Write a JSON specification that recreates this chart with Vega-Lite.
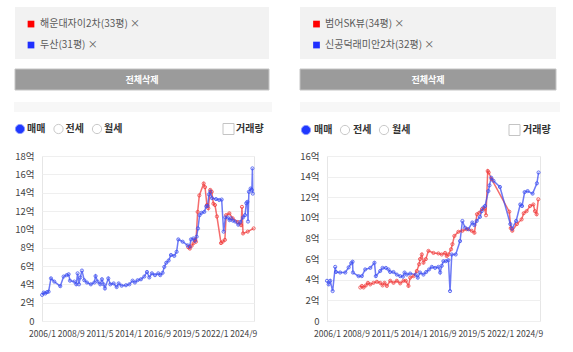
{
  "$schema": "https://vega.github.io/schema/vega-lite/v6.json",
  "padding": {"left": 13, "top": 7, "right": 0, "bottom": 0},
  "background": "white",
  "config": {
    "font": "Noto Sans CJK KR",
    "view": {"stroke": null},
    "axis": {"labelFont": "Noto Sans CJK KR", "labelFontSize": 8.5, "labelColor": "#444", "titleFont": "Noto Sans CJK KR"}
  },
  "spacing": 27,
  "resolve": {"scale": {"x": "independent", "y": "independent", "color": "independent"}},
  "hconcat": [
    {
      "spacing": 9,
      "resolve": {"scale": {"x": "independent", "y": "independent", "color": "independent"}},
      "vconcat": [
        {
          "width": 212, "height": 52,
          "layer": [
            {"data": {"values": [{"box": "legend"}]}, "mark": {"type": "rect", "color": "#f2f2f2"}, "encoding": {"x": {"value": -27}, "x2": {"value": 227}, "y": {"value": 0}, "y2": {"value": 52}}},
            {
              "data": {"values": [{"name": "해운대자이2차(33평)"}, {"name": "두산(31평)"}]},
              "transform": [{"calculate": "datum.name + ' ×'", "as": "nameX"}],
              "encoding": {"y": {"field": "name", "type": "nominal", "sort": null, "scale": {"type": "point", "padding": 0.74, "align": 0.55}, "axis": null}},
              "layer": [
                {"mark": {"type": "point", "shape": "square", "filled": true, "size": 45, "opacity": 1}, "encoding": {"x": {"value": -11}, "color": {"field": "name", "type": "nominal", "scale": {"domain": ["해운대자이2차(33평)", "두산(31평)"], "range": ["#ff0000", "#1f2fff"]}, "legend": null}}},
                {"mark": {"type": "text", "align": "left", "baseline": "middle", "fontSize": 10, "color": "#5a5a5a"}, "encoding": {"x": {"value": -2}, "text": {"field": "nameX"}}}
              ]
            }
          ]
        },
        {
          "width": 212, "height": 21,
          "data": {"values": [{"label": "전체삭제"}]},
          "layer": [
            {"mark": {"type": "rect", "color": "#9b9b9b", "stroke": "#c4c4c4", "strokeWidth": 1}, "encoding": {"x": {"value": -27}, "x2": {"value": 227}, "y": {"value": 0}, "y2": {"value": 21}}},
            {"mark": {"type": "text", "fontSize": 9, "fontWeight": "bold", "color": "white", "baseline": "middle", "align": "center"}, "encoding": {"x": {"value": 100}, "y": {"value": 10.5}, "text": {"field": "label"}}}
          ]
        },
        {
          "width": 212, "height": 12,
          "data": {"values": [{"box": "strip"}]},
          "mark": {"type": "rect", "color": "#f7f7f7"},
          "encoding": {"x": {"value": -28}, "x2": {"value": 230}, "y": {"value": 2}, "y2": {"value": 12}}
        },
        {
          "width": 212, "height": 20,
          "layer": [
            {
              "data": {"values": [{"opt": "매매", "sel": 1}, {"opt": "전세", "sel": 0}, {"opt": "월세", "sel": 0}]},
              "encoding": {"x": {"field": "opt", "type": "nominal", "sort": null, "scale": {"type": "point", "domain": ["매매", "전세", "월세"], "range": [-22, 55], "padding": 0}, "axis": null}, "y": {"value": 8}},
              "layer": [
                {"mark": {"type": "point", "shape": "circle", "filled": true, "size": 85, "strokeWidth": 1, "opacity": 1},
                 "encoding": {"fill": {"condition": {"test": "datum.sel == 1", "value": "#2038ff"}, "value": "white"}, "stroke": {"condition": {"test": "datum.sel == 1", "value": "#8a98ff"}, "value": "#c9c9c9"}}},
                {"mark": {"type": "text", "align": "left", "baseline": "middle", "dx": 7, "fontSize": 10, "fontWeight": "bold", "color": "#333"}, "encoding": {"text": {"field": "opt"}}}
              ]
            },
            {
              "data": {"values": [{"opt": "거래량"}]},
              "layer": [
                {"mark": {"type": "point", "shape": "square", "filled": false, "size": 121, "strokeWidth": 1, "color": "#c4c4c4", "opacity": 1}, "encoding": {"x": {"value": 186.5}, "y": {"value": 8}}},
                {"mark": {"type": "text", "align": "left", "baseline": "middle", "fontSize": 10, "fontWeight": "bold", "color": "#333"}, "encoding": {"x": {"value": 194}, "y": {"value": 8}, "text": {"field": "opt"}}}
              ]
            }
          ]
        },
        {
          "width": 212, "height": 165,
          "view": {"stroke": "#e6e6e6", "fill": "white"},
          "data": {"values": [
            {"name": "해운대자이2차(33평)", "date": "2019-07-27", "price": 8.05},
            {"name": "해운대자이2차(33평)", "date": "2019-09-20", "price": 7.9},
            {"name": "해운대자이2차(33평)", "date": "2019-11-18", "price": 8.2},
            {"name": "해운대자이2차(33평)", "date": "2020-01-25", "price": 8.5},
            {"name": "해운대자이2차(33평)", "date": "2020-03-20", "price": 8.85},
            {"name": "해운대자이2차(33평)", "date": "2020-04-12", "price": 8.65},
            {"name": "해운대자이2차(33평)", "date": "2020-06-10", "price": 11.9},
            {"name": "해운대자이2차(33평)", "date": "2020-08-05", "price": 13.7},
            {"name": "해운대자이2차(33평)", "date": "2021-01-01", "price": 15.0},
            {"name": "해운대자이2차(33평)", "date": "2021-02-15", "price": 14.6},
            {"name": "해운대자이2차(33평)", "date": "2021-04-20", "price": 12.65},
            {"name": "해운대자이2차(33평)", "date": "2021-06-05", "price": 12.3},
            {"name": "해운대자이2차(33평)", "date": "2021-08-12", "price": 14.3},
            {"name": "해운대자이2차(33평)", "date": "2021-10-01", "price": 14.1},
            {"name": "해운대자이2차(33평)", "date": "2021-11-25", "price": 12.8},
            {"name": "해운대자이2차(33평)", "date": "2022-01-18", "price": 12.65},
            {"name": "해운대자이2차(33평)", "date": "2022-03-25", "price": 11.4},
            {"name": "해운대자이2차(33평)", "date": "2022-08-10", "price": 8.5},
            {"name": "해운대자이2차(33평)", "date": "2022-10-05", "price": 8.65},
            {"name": "해운대자이2차(33평)", "date": "2022-12-20", "price": 8.85},
            {"name": "해운대자이2차(33평)", "date": "2023-02-01", "price": 11.55},
            {"name": "해운대자이2차(33평)", "date": "2023-05-20", "price": 11.75},
            {"name": "해운대자이2차(33평)", "date": "2023-09-10", "price": 11.2},
            {"name": "해운대자이2차(33평)", "date": "2024-03-01", "price": 10.8},
            {"name": "해운대자이2차(33평)", "date": "2024-06-20", "price": 10.45},
            {"name": "해운대자이2차(33평)", "date": "2024-07-20", "price": 12.45},
            {"name": "해운대자이2차(33평)", "date": "2024-08-25", "price": 9.55},
            {"name": "해운대자이2차(33평)", "date": "2025-02-01", "price": 9.75},
            {"name": "해운대자이2차(33평)", "date": "2025-08-20", "price": 10.1},
            {"name": "두산(31평)", "date": "2006-01-05", "price": 2.85},
            {"name": "두산(31평)", "date": "2006-02-27", "price": 3.1},
            {"name": "두산(31평)", "date": "2006-04-21", "price": 3.0},
            {"name": "두산(31평)", "date": "2006-06-18", "price": 3.15},
            {"name": "두산(31평)", "date": "2006-08-12", "price": 3.2},
            {"name": "두산(31평)", "date": "2006-11-01", "price": 4.65},
            {"name": "두산(31평)", "date": "2007-02-21", "price": 4.3},
            {"name": "두산(31평)", "date": "2007-09-12", "price": 3.8},
            {"name": "두산(31평)", "date": "2008-01-04", "price": 4.85},
            {"name": "두산(31평)", "date": "2008-04-15", "price": 5.0},
            {"name": "두산(31평)", "date": "2008-06-21", "price": 5.1},
            {"name": "두산(31평)", "date": "2008-08-06", "price": 4.4},
            {"name": "두산(31평)", "date": "2009-01-01", "price": 4.3},
            {"name": "두산(31평)", "date": "2009-03-07", "price": 4.0},
            {"name": "두산(31평)", "date": "2009-04-21", "price": 5.2},
            {"name": "두산(31평)", "date": "2009-06-06", "price": 4.0},
            {"name": "두산(31평)", "date": "2009-07-21", "price": 4.75},
            {"name": "두산(31평)", "date": "2009-09-15", "price": 5.5},
            {"name": "두산(31평)", "date": "2009-12-04", "price": 4.45},
            {"name": "두산(31평)", "date": "2010-03-04", "price": 4.2},
            {"name": "두산(31평)", "date": "2010-07-15", "price": 4.0},
            {"name": "두산(31평)", "date": "2010-11-10", "price": 4.2},
            {"name": "두산(31평)", "date": "2010-12-21", "price": 4.9},
            {"name": "두산(31평)", "date": "2011-03-01", "price": 4.3},
            {"name": "두산(31평)", "date": "2011-05-28", "price": 4.0},
            {"name": "두산(31평)", "date": "2011-07-25", "price": 4.55},
            {"name": "두산(31평)", "date": "2011-09-18", "price": 4.0},
            {"name": "두산(31평)", "date": "2011-11-04", "price": 3.55},
            {"name": "두산(31평)", "date": "2012-02-25", "price": 4.65},
            {"name": "두산(31평)", "date": "2012-05-04", "price": 4.0},
            {"name": "두산(31평)", "date": "2012-08-25", "price": 4.1},
            {"name": "두산(31평)", "date": "2012-12-04", "price": 3.7},
            {"name": "두산(31평)", "date": "2013-02-10", "price": 4.1},
            {"name": "두산(31평)", "date": "2013-05-22", "price": 3.85},
            {"name": "두산(31평)", "date": "2013-10-15", "price": 3.9},
            {"name": "두산(31평)", "date": "2014-02-07", "price": 4.0},
            {"name": "두산(31평)", "date": "2014-05-28", "price": 4.4},
            {"name": "두산(31평)", "date": "2014-08-15", "price": 4.2},
            {"name": "두산(31평)", "date": "2014-11-15", "price": 4.45},
            {"name": "두산(31평)", "date": "2015-03-07", "price": 4.55},
            {"name": "두산(31평)", "date": "2015-06-28", "price": 4.85},
            {"name": "두산(31평)", "date": "2015-09-28", "price": 5.35},
            {"name": "두산(31평)", "date": "2015-12-15", "price": 4.75},
            {"name": "두산(31평)", "date": "2016-03-12", "price": 5.2},
            {"name": "두산(31평)", "date": "2016-06-25", "price": 5.0},
            {"name": "두산(31평)", "date": "2016-10-15", "price": 5.2},
            {"name": "두산(31평)", "date": "2016-12-21", "price": 5.0},
            {"name": "두산(31평)", "date": "2017-03-10", "price": 5.25},
            {"name": "두산(31평)", "date": "2017-05-07", "price": 5.9},
            {"name": "두산(31평)", "date": "2017-07-12", "price": 6.35},
            {"name": "두산(31평)", "date": "2017-10-01", "price": 6.6},
            {"name": "두산(31평)", "date": "2017-12-18", "price": 7.2},
            {"name": "두산(31평)", "date": "2018-04-10", "price": 7.1},
            {"name": "두산(31평)", "date": "2018-06-28", "price": 7.55},
            {"name": "두산(31평)", "date": "2018-08-25", "price": 8.9},
            {"name": "두산(31평)", "date": "2019-01-18", "price": 8.65},
            {"name": "두산(31평)", "date": "2019-07-07", "price": 8.25},
            {"name": "두산(31평)", "date": "2019-09-12", "price": 8.1},
            {"name": "두산(31평)", "date": "2019-10-28", "price": 8.9},
            {"name": "두산(31평)", "date": "2020-01-15", "price": 9.0},
            {"name": "두산(31평)", "date": "2020-03-10", "price": 8.75},
            {"name": "두산(31평)", "date": "2020-05-07", "price": 9.2},
            {"name": "두산(31평)", "date": "2020-06-21", "price": 10.1},
            {"name": "두산(31평)", "date": "2020-08-15", "price": 11.55},
            {"name": "두산(31평)", "date": "2020-10-21", "price": 11.8},
            {"name": "두산(31평)", "date": "2021-01-21", "price": 11.9},
            {"name": "두산(31평)", "date": "2021-03-27", "price": 12.5},
            {"name": "두산(31평)", "date": "2021-05-12", "price": 12.55},
            {"name": "두산(31평)", "date": "2021-06-27", "price": 13.8},
            {"name": "두산(31평)", "date": "2021-08-12", "price": 14.1},
            {"name": "두산(31평)", "date": "2021-10-07", "price": 13.4},
            {"name": "두산(31평)", "date": "2022-02-21", "price": 13.3},
            {"name": "두산(31평)", "date": "2022-06-12", "price": 13.2},
            {"name": "두산(31평)", "date": "2022-09-01", "price": 13.25},
            {"name": "두산(31평)", "date": "2022-11-07", "price": 9.75},
            {"name": "두산(31평)", "date": "2023-01-04", "price": 11.3},
            {"name": "두산(31평)", "date": "2023-03-21", "price": 11.3},
            {"name": "두산(31평)", "date": "2023-05-28", "price": 11.0},
            {"name": "두산(31평)", "date": "2023-07-12", "price": 11.2},
            {"name": "두산(31평)", "date": "2023-09-18", "price": 10.95},
            {"name": "두산(31평)", "date": "2023-12-07", "price": 10.85},
            {"name": "두산(31평)", "date": "2024-03-18", "price": 10.5},
            {"name": "두산(31평)", "date": "2024-05-25", "price": 10.8},
            {"name": "두산(31평)", "date": "2024-08-25", "price": 11.3},
            {"name": "두산(31평)", "date": "2024-11-01", "price": 11.55},
            {"name": "두산(31평)", "date": "2024-12-15", "price": 12.85},
            {"name": "두산(31평)", "date": "2025-01-18", "price": 13.0},
            {"name": "두산(31평)", "date": "2025-02-10", "price": 10.85},
            {"name": "두산(31평)", "date": "2025-03-12", "price": 14.1},
            {"name": "두산(31평)", "date": "2025-05-10", "price": 14.45},
            {"name": "두산(31평)", "date": "2025-06-20", "price": 14.3},
            {"name": "두산(31평)", "date": "2025-07-10", "price": 16.65},
            {"name": "두산(31평)", "date": "2025-07-22", "price": 13.9}
          ]},
          "encoding": {
            "x": {"field": "date", "type": "temporal",
                  "scale": {"type": "utc", "domain": [{"year": 2006, "month": 1, "date": 1, "utc": true}, {"year": 2025, "month": 9, "date": 1, "utc": true}]},
                  "axis": {"title": null, "grid": false, "domain": false, "ticks": false, "labelFlush": false, "labelOverlap": false, "labelPadding": 8, "format": "%Y/%-m",
                           "values": [{"year": 2006, "month": 1, "date": 1, "utc": true}, {"year": 2008, "month": 9, "date": 1, "utc": true}, {"year": 2011, "month": 5, "date": 1, "utc": true}, {"year": 2014, "month": 1, "date": 1, "utc": true}, {"year": 2016, "month": 9, "date": 1, "utc": true}, {"year": 2019, "month": 5, "date": 1, "utc": true}, {"year": 2022, "month": 1, "date": 1, "utc": true}, {"year": 2024, "month": 9, "date": 1, "utc": true}]}},
            "y": {"field": "price", "type": "quantitative", "scale": {"domain": [0, 18], "nice": false},
                  "axis": {"title": null, "domain": false, "ticks": false, "labelPadding": 8, "labelFontSize": 9.5, "gridColor": "#efefef", "values": [0, 2, 4, 6, 8, 10, 12, 14, 16, 18], "labelExpr": "datum.value == 0 ? '0' : datum.value + '억'"}},
            "color": {"field": "name", "type": "nominal", "scale": {"domain": ["해운대자이2차(33평)", "두산(31평)"], "range": ["#f23c3c", "#3c4ef2"]}, "legend": null}
          },
          "layer": [
            {"mark": {"type": "line", "strokeWidth": 1.5, "opacity": 0.75}},
            {"mark": {"type": "point", "filled": false, "size": 10, "strokeWidth": 1, "opacity": 0.8}}
          ]
        }
      ]
    },
    {
      "spacing": 9,
      "resolve": {"scale": {"x": "independent", "y": "independent", "color": "independent"}},
      "vconcat": [
        {
          "width": 213, "height": 52,
          "layer": [
            {"data": {"values": [{"box": "legend"}]}, "mark": {"type": "rect", "color": "#f2f2f2"}, "encoding": {"x": {"value": -27}, "x2": {"value": 229}, "y": {"value": 0}, "y2": {"value": 52}}},
            {
              "data": {"values": [{"name": "범어SK뷰(34평)"}, {"name": "신공덕래미안2차(32평)"}]},
              "transform": [{"calculate": "datum.name + ' ×'", "as": "nameX"}],
              "encoding": {"y": {"field": "name", "type": "nominal", "sort": null, "scale": {"type": "point", "padding": 0.74, "align": 0.55}, "axis": null}},
              "layer": [
                {"mark": {"type": "point", "shape": "square", "filled": true, "size": 45, "opacity": 1}, "encoding": {"x": {"value": -10.5}, "color": {"field": "name", "type": "nominal", "scale": {"domain": ["범어SK뷰(34평)", "신공덕래미안2차(32평)"], "range": ["#ff0000", "#1f2fff"]}, "legend": null}}},
                {"mark": {"type": "text", "align": "left", "baseline": "middle", "fontSize": 10, "color": "#5a5a5a"}, "encoding": {"x": {"value": -2}, "text": {"field": "nameX"}}}
              ]
            }
          ]
        },
        {
          "width": 213, "height": 21,
          "data": {"values": [{"label": "전체삭제"}]},
          "layer": [
            {"mark": {"type": "rect", "color": "#9b9b9b", "stroke": "#c4c4c4", "strokeWidth": 1}, "encoding": {"x": {"value": -27}, "x2": {"value": 229}, "y": {"value": 0}, "y2": {"value": 21}}},
            {"mark": {"type": "text", "fontSize": 9, "fontWeight": "bold", "color": "white", "baseline": "middle", "align": "center"}, "encoding": {"x": {"value": 101}, "y": {"value": 10.5}, "text": {"field": "label"}}}
          ]
        },
        {
          "width": 213, "height": 12,
          "data": {"values": [{"box": "strip"}]},
          "mark": {"type": "rect", "color": "#f7f7f7"},
          "encoding": {"x": {"value": -27}, "x2": {"value": 233}, "y": {"value": 2}, "y2": {"value": 12}}
        },
        {
          "width": 213, "height": 20,
          "layer": [
            {
              "data": {"values": [{"opt": "매매", "sel": 1}, {"opt": "전세", "sel": 0}, {"opt": "월세", "sel": 0}]},
              "encoding": {"x": {"field": "opt", "type": "nominal", "sort": null, "scale": {"type": "point", "domain": ["매매", "전세", "월세"], "range": [-21, 57], "padding": 0}, "axis": null}, "y": {"value": 9}},
              "layer": [
                {"mark": {"type": "point", "shape": "circle", "filled": true, "size": 85, "strokeWidth": 1, "opacity": 1},
                 "encoding": {"fill": {"condition": {"test": "datum.sel == 1", "value": "#2038ff"}, "value": "white"}, "stroke": {"condition": {"test": "datum.sel == 1", "value": "#8a98ff"}, "value": "#c9c9c9"}}},
                {"mark": {"type": "text", "align": "left", "baseline": "middle", "dx": 8, "fontSize": 10, "fontWeight": "bold", "color": "#333"}, "encoding": {"text": {"field": "opt"}}}
              ]
            },
            {
              "data": {"values": [{"opt": "거래량"}]},
              "layer": [
                {"mark": {"type": "point", "shape": "square", "filled": false, "size": 121, "strokeWidth": 1, "color": "#c4c4c4", "opacity": 1}, "encoding": {"x": {"value": 187.5}, "y": {"value": 9}}},
                {"mark": {"type": "text", "align": "left", "baseline": "middle", "fontSize": 10, "fontWeight": "bold", "color": "#333"}, "encoding": {"x": {"value": 196}, "y": {"value": 9}, "text": {"field": "opt"}}}
              ]
            }
          ]
        },
        {
          "width": 213, "height": 165,
          "view": {"stroke": "#e6e6e6", "fill": "white"},
          "data": {"values": [
            {"name": "범어SK뷰(34평)", "date": "2009-01-28", "price": 3.25},
            {"name": "범어SK뷰(34평)", "date": "2009-03-22", "price": 3.4},
            {"name": "범어SK뷰(34평)", "date": "2009-05-18", "price": 3.25},
            {"name": "범어SK뷰(34평)", "date": "2009-08-04", "price": 3.45},
            {"name": "범어SK뷰(34평)", "date": "2009-10-12", "price": 3.7},
            {"name": "범어SK뷰(34평)", "date": "2009-12-28", "price": 3.55},
            {"name": "범어SK뷰(34평)", "date": "2010-04-18", "price": 3.7},
            {"name": "범어SK뷰(34평)", "date": "2010-08-10", "price": 3.8},
            {"name": "범어SK뷰(34평)", "date": "2010-12-01", "price": 3.7},
            {"name": "범어SK뷰(34평)", "date": "2011-02-18", "price": 3.45},
            {"name": "범어SK뷰(34평)", "date": "2011-04-25", "price": 3.7},
            {"name": "범어SK뷰(34평)", "date": "2011-07-12", "price": 3.4},
            {"name": "범어SK뷰(34평)", "date": "2011-11-04", "price": 3.9},
            {"name": "범어SK뷰(34평)", "date": "2012-02-22", "price": 3.7},
            {"name": "범어SK뷰(34평)", "date": "2012-06-12", "price": 3.9},
            {"name": "범어SK뷰(34평)", "date": "2012-10-04", "price": 3.65},
            {"name": "범어SK뷰(34평)", "date": "2013-01-25", "price": 3.9},
            {"name": "범어SK뷰(34평)", "date": "2013-04-12", "price": 3.9},
            {"name": "범어SK뷰(34평)", "date": "2013-07-10", "price": 3.4},
            {"name": "범어SK뷰(34평)", "date": "2013-09-05", "price": 4.2},
            {"name": "범어SK뷰(34평)", "date": "2013-12-28", "price": 4.35},
            {"name": "범어SK뷰(34평)", "date": "2014-04-18", "price": 4.85},
            {"name": "범어SK뷰(34평)", "date": "2014-07-04", "price": 5.5},
            {"name": "범어SK뷰(34평)", "date": "2014-08-05", "price": 6.0},
            {"name": "범어SK뷰(34평)", "date": "2014-10-04", "price": 6.45},
            {"name": "범어SK뷰(34평)", "date": "2014-11-28", "price": 5.65},
            {"name": "범어SK뷰(34평)", "date": "2015-02-15", "price": 6.0},
            {"name": "범어SK뷰(34평)", "date": "2015-05-15", "price": 6.8},
            {"name": "범어SK뷰(34평)", "date": "2015-11-01", "price": 6.6},
            {"name": "범어SK뷰(34평)", "date": "2016-04-15", "price": 6.55},
            {"name": "범어SK뷰(34평)", "date": "2016-08-05", "price": 6.45},
            {"name": "범어SK뷰(34평)", "date": "2016-11-28", "price": 6.6},
            {"name": "범어SK뷰(34평)", "date": "2017-01-20", "price": 6.3},
            {"name": "범어SK뷰(34평)", "date": "2017-03-18", "price": 6.45},
            {"name": "범어SK뷰(34평)", "date": "2017-06-15", "price": 6.95},
            {"name": "범어SK뷰(34평)", "date": "2017-08-01", "price": 7.45},
            {"name": "범어SK뷰(34평)", "date": "2017-10-06", "price": 8.25},
            {"name": "범어SK뷰(34평)", "date": "2018-02-18", "price": 8.65},
            {"name": "범어SK뷰(34평)", "date": "2018-07-03", "price": 8.75},
            {"name": "범어SK뷰(34평)", "date": "2018-11-28", "price": 8.9},
            {"name": "범어SK뷰(34평)", "date": "2019-05-12", "price": 8.75},
            {"name": "범어SK뷰(34평)", "date": "2019-08-12", "price": 8.55},
            {"name": "범어SK뷰(34평)", "date": "2019-11-06", "price": 10.35},
            {"name": "범어SK뷰(34평)", "date": "2020-01-25", "price": 10.5},
            {"name": "범어SK뷰(34평)", "date": "2020-04-25", "price": 10.85},
            {"name": "범어SK뷰(34평)", "date": "2020-07-20", "price": 10.9},
            {"name": "범어SK뷰(34평)", "date": "2020-09-06", "price": 10.25},
            {"name": "범어SK뷰(34평)", "date": "2020-11-03", "price": 14.55},
            {"name": "범어SK뷰(34평)", "date": "2020-12-06", "price": 14.4},
            {"name": "범어SK뷰(34평)", "date": "2021-03-15", "price": 13.75},
            {"name": "범어SK뷰(34평)", "date": "2022-11-01", "price": 10.6},
            {"name": "범어SK뷰(34평)", "date": "2022-12-20", "price": 9.0},
            {"name": "범어SK뷰(34평)", "date": "2023-02-10", "price": 8.75},
            {"name": "범어SK뷰(34평)", "date": "2023-07-15", "price": 9.4},
            {"name": "범어SK뷰(34평)", "date": "2023-12-20", "price": 9.85},
            {"name": "범어SK뷰(34평)", "date": "2024-03-01", "price": 10.45},
            {"name": "범어SK뷰(34평)", "date": "2024-06-05", "price": 10.65},
            {"name": "범어SK뷰(34평)", "date": "2024-10-01", "price": 11.15},
            {"name": "범어SK뷰(34평)", "date": "2025-01-20", "price": 11.3},
            {"name": "범어SK뷰(34평)", "date": "2025-03-15", "price": 10.65},
            {"name": "범어SK뷰(34평)", "date": "2025-05-10", "price": 10.35},
            {"name": "범어SK뷰(34평)", "date": "2025-07-05", "price": 11.8},
            {"name": "신공덕래미안2차(32평)", "date": "2006-01-01", "price": 3.9},
            {"name": "신공덕래미안2차(32평)", "date": "2006-02-25", "price": 3.55},
            {"name": "신공덕래미안2차(32평)", "date": "2006-04-20", "price": 3.9},
            {"name": "신공덕래미안2차(32평)", "date": "2006-07-10", "price": 2.9},
            {"name": "신공덕래미안2차(32평)", "date": "2006-10-05", "price": 5.25},
            {"name": "신공덕래미안2차(32평)", "date": "2006-11-01", "price": 4.75},
            {"name": "신공덕래미안2차(32평)", "date": "2007-03-20", "price": 4.7},
            {"name": "신공덕래미안2차(32평)", "date": "2007-09-10", "price": 4.7},
            {"name": "신공덕래미안2차(32평)", "date": "2008-01-01", "price": 5.2},
            {"name": "신공덕래미안2차(32평)", "date": "2008-03-28", "price": 5.6},
            {"name": "신공덕래미안2차(32평)", "date": "2008-05-12", "price": 5.75},
            {"name": "신공덕래미안2차(32평)", "date": "2008-05-25", "price": 4.7},
            {"name": "신공덕래미안2차(32평)", "date": "2008-12-01", "price": 4.35},
            {"name": "신공덕래미안2차(32평)", "date": "2009-03-20", "price": 4.35},
            {"name": "신공덕래미안2차(32평)", "date": "2009-07-12", "price": 5.0},
            {"name": "신공덕래미안2차(32평)", "date": "2010-01-01", "price": 5.15},
            {"name": "신공덕래미안2차(32평)", "date": "2010-05-20", "price": 5.65},
            {"name": "신공덕래미안2차(32평)", "date": "2010-07-05", "price": 4.35},
            {"name": "신공덕래미안2차(32평)", "date": "2010-12-01", "price": 4.85},
            {"name": "신공덕래미안2차(32평)", "date": "2011-02-18", "price": 5.15},
            {"name": "신공덕래미안2차(32평)", "date": "2011-06-10", "price": 5.15},
            {"name": "신공덕래미안2차(32평)", "date": "2011-09-05", "price": 5.0},
            {"name": "신공덕래미안2차(32평)", "date": "2011-11-01", "price": 4.75},
            {"name": "신공덕래미안2차(32평)", "date": "2012-02-20", "price": 4.75},
            {"name": "신공덕래미안2차(32평)", "date": "2012-06-12", "price": 4.5},
            {"name": "신공덕래미안2차(32평)", "date": "2012-10-05", "price": 4.35},
            {"name": "신공덕래미안2차(32평)", "date": "2013-01-05", "price": 4.3},
            {"name": "신공덕래미안2차(32평)", "date": "2013-02-28", "price": 4.7},
            {"name": "신공덕래미안2차(32평)", "date": "2013-05-15", "price": 4.5},
            {"name": "신공덕래미안2차(32평)", "date": "2013-09-05", "price": 4.6},
            {"name": "신공덕래미안2차(32평)", "date": "2014-03-15", "price": 4.5},
            {"name": "신공덕래미안2차(32평)", "date": "2014-05-20", "price": 4.2},
            {"name": "신공덕래미안2차(32평)", "date": "2014-08-05", "price": 4.7},
            {"name": "신공덕래미안2차(32평)", "date": "2014-11-28", "price": 4.5},
            {"name": "신공덕래미안2차(32평)", "date": "2015-02-28", "price": 4.75},
            {"name": "신공덕래미안2차(32평)", "date": "2015-06-05", "price": 5.0},
            {"name": "신공덕래미안2차(32평)", "date": "2015-09-05", "price": 5.25},
            {"name": "신공덕래미안2차(32평)", "date": "2015-12-25", "price": 5.15},
            {"name": "신공덕래미안2차(32평)", "date": "2016-04-15", "price": 5.25},
            {"name": "신공덕래미안2차(32평)", "date": "2016-06-12", "price": 4.7},
            {"name": "신공덕래미안2차(32평)", "date": "2016-08-05", "price": 5.35},
            {"name": "신공덕래미안2차(32평)", "date": "2016-10-01", "price": 5.8},
            {"name": "신공덕래미안2차(32평)", "date": "2016-12-20", "price": 5.8},
            {"name": "신공덕래미안2차(32평)", "date": "2017-03-18", "price": 5.9},
            {"name": "신공덕래미안2차(32평)", "date": "2017-05-12", "price": 2.9},
            {"name": "신공덕래미안2차(32평)", "date": "2017-07-10", "price": 6.45},
            {"name": "신공덕래미안2차(32평)", "date": "2017-11-20", "price": 6.45},
            {"name": "신공덕래미안2차(32평)", "date": "2018-04-15", "price": 7.75},
            {"name": "신공덕래미안2차(32평)", "date": "2018-07-03", "price": 9.7},
            {"name": "신공덕래미안2차(32평)", "date": "2018-10-01", "price": 9.05},
            {"name": "신공덕래미안2차(32평)", "date": "2019-01-20", "price": 8.9},
            {"name": "신공덕래미안2차(32평)", "date": "2019-06-01", "price": 9.55},
            {"name": "신공덕래미안2차(32평)", "date": "2019-08-10", "price": 9.3},
            {"name": "신공덕래미안2차(32평)", "date": "2019-10-28", "price": 9.7},
            {"name": "신공덕래미안2차(32평)", "date": "2020-02-15", "price": 10.1},
            {"name": "신공덕래미안2차(32평)", "date": "2020-04-15", "price": 10.65},
            {"name": "신공덕래미안2차(32평)", "date": "2020-06-10", "price": 11.0},
            {"name": "신공덕래미안2차(32평)", "date": "2020-08-05", "price": 11.15},
            {"name": "신공덕래미안2차(32평)", "date": "2020-11-25", "price": 12.6},
            {"name": "신공덕래미안2차(32평)", "date": "2021-01-01", "price": 13.15},
            {"name": "신공덕래미안2차(32평)", "date": "2021-03-01", "price": 13.9},
            {"name": "신공덕래미안2차(32평)", "date": "2021-05-15", "price": 13.6},
            {"name": "신공덕래미안2차(32평)", "date": "2021-12-20", "price": 13.0},
            {"name": "신공덕래미안2차(32평)", "date": "2022-12-05", "price": 9.4},
            {"name": "신공덕래미안2차(32평)", "date": "2023-02-01", "price": 8.95},
            {"name": "신공덕래미안2차(32평)", "date": "2023-06-20", "price": 9.7},
            {"name": "신공덕래미안2차(32평)", "date": "2023-11-05", "price": 11.3},
            {"name": "신공덕래미안2차(32평)", "date": "2024-01-05", "price": 11.15},
            {"name": "신공덕래미안2차(32평)", "date": "2024-04-01", "price": 12.5},
            {"name": "신공덕래미안2차(32평)", "date": "2024-07-10", "price": 12.6},
            {"name": "신공덕래미안2차(32평)", "date": "2024-12-25", "price": 12.35},
            {"name": "신공덕래미안2차(32평)", "date": "2025-05-20", "price": 13.35},
            {"name": "신공덕래미안2차(32평)", "date": "2025-07-15", "price": 14.4}
          ]},
          "encoding": {
            "x": {"field": "date", "type": "temporal",
                  "scale": {"type": "utc", "domain": [{"year": 2006, "month": 1, "date": 1, "utc": true}, {"year": 2025, "month": 9, "date": 1, "utc": true}]},
                  "axis": {"title": null, "grid": false, "domain": false, "ticks": false, "labelFlush": false, "labelOverlap": false, "labelPadding": 8, "format": "%Y/%-m",
                           "values": [{"year": 2006, "month": 1, "date": 1, "utc": true}, {"year": 2008, "month": 9, "date": 1, "utc": true}, {"year": 2011, "month": 5, "date": 1, "utc": true}, {"year": 2014, "month": 1, "date": 1, "utc": true}, {"year": 2016, "month": 9, "date": 1, "utc": true}, {"year": 2019, "month": 5, "date": 1, "utc": true}, {"year": 2022, "month": 1, "date": 1, "utc": true}, {"year": 2024, "month": 9, "date": 1, "utc": true}]}},
            "y": {"field": "price", "type": "quantitative", "scale": {"domain": [0, 16], "nice": false},
                  "axis": {"title": null, "domain": false, "ticks": false, "labelPadding": 8, "labelFontSize": 9.5, "gridColor": "#efefef", "values": [0, 2, 4, 6, 8, 10, 12, 14, 16], "labelExpr": "datum.value == 0 ? '0' : datum.value + '억'"}},
            "color": {"field": "name", "type": "nominal", "scale": {"domain": ["범어SK뷰(34평)", "신공덕래미안2차(32평)"], "range": ["#f23c3c", "#3c4ef2"]}, "legend": null}
          },
          "layer": [
            {"mark": {"type": "line", "strokeWidth": 1.5, "opacity": 0.75}},
            {"mark": {"type": "point", "filled": false, "size": 10, "strokeWidth": 1, "opacity": 0.8}}
          ]
        }
      ]
    }
  ]
}
